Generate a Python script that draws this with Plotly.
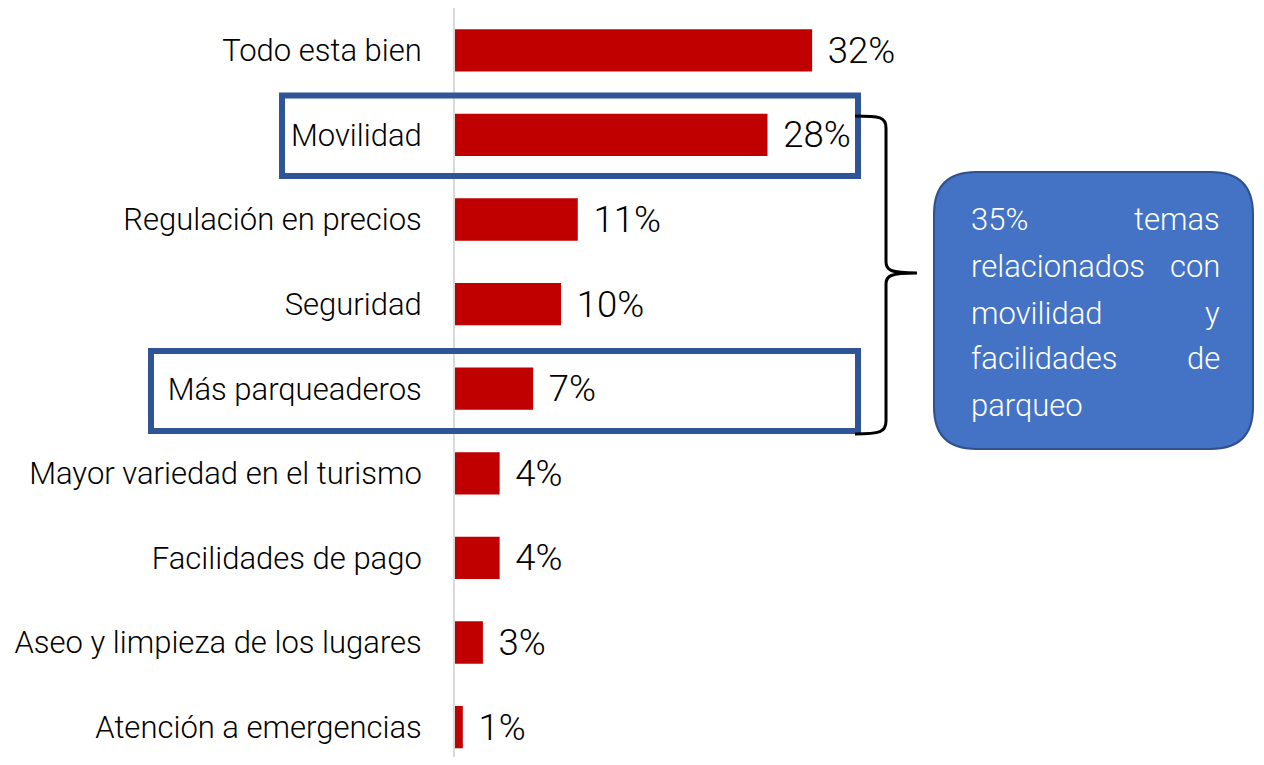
import plotly.graph_objects as go

categories = [
    "Todo esta bien",
    "Movilidad",
    "Regulación en precios",
    "Seguridad",
    "Más parqueaderos",
    "Mayor variedad en el turismo",
    "Facilidades de pago",
    "Aseo y limpieza de los lugares",
    "Atención a emergencias",
]
values = [32, 28, 11, 9.5, 7, 4, 4, 2.5, 0.7]
value_labels = ["32%", "28%", "11%", "10%", "7%", "4%", "4%", "3%", "1%"]

callout_left = ["35%", "relacionados", "movilidad", "facilidades", "parqueo"]
callout_right = ["temas", "con", "y", "de", ""]

OFF = 8  # page body margin
W, H = 1264 - 2 * OFF, 765 - 2 * OFF
ML, MR, MT, MB = 455 - OFF, 0, 0, 0
PW, PH = W - ML - MR, H - MT - MB
UNIT = 84.6  # px per category
XMAX = PW / 11.16  # keep 11.16 px per percentage point
FONT = "Roboto Light, Roboto"


def px(x):
    # x in screen pixels of the reference
    return (x - OFF - ML) / PW


def py(y):
    return (H - MB - (y - OFF)) / PH


def path(points_cmds):
    out = []
    for cmd, *coords in points_cmds:
        parts = [cmd]
        for i in range(0, len(coords), 2):
            parts.append(f"{px(coords[i]):.5f},{py(coords[i+1]):.5f}")
        out.append(" ".join(parts))
    return " ".join(out)


fig = go.Figure()
fig.add_trace(go.Bar(
    y=categories,
    x=values,
    orientation="h",
    width=0.5,
    marker=dict(color="#C00000", line=dict(width=0)),
    text=["\u00a0\u200a" + t for t in value_labels],
    textposition="outside",
    cliponaxis=False,
    textfont=dict(family=FONT, size=38, color="#000000", weight=300),
    hoverinfo="skip",
))

shapes = []
# highlight boxes
for (x0, y0, x1, y1) in [(282, 95.5, 858, 176), (151, 351, 858, 431)]:
    shapes.append(dict(type="rect", xref="paper", yref="paper",
                       x0=px(x0), x1=px(x1), y0=py(y1), y1=py(y0),
                       line=dict(color="#2F5597", width=6), fillcolor="rgba(0,0,0,0)"))
# curly brace
brace = path([
    ("M", 855, 116), ("C", 880, 116, 886, 117, 886, 128), ("L", 886, 262),
    ("C", 886, 270, 890, 273, 917, 273),
    ("M", 917, 273), ("C", 890, 273, 886, 276, 886, 284), ("L", 886, 421),
    ("C", 886, 432, 880, 434, 855, 434),
])
shapes.append(dict(type="path", xref="paper", yref="paper", path=brace,
                   line=dict(color="#000000", width=3)))
# rounded callout box
bx0, by0, bx1, by1, r = 934, 172, 1253, 449, 42
box = path([
    ("M", bx0 + r, by0), ("L", bx1 - r, by0), ("Q", bx1, by0, bx1, by0 + r),
    ("L", bx1, by1 - r), ("Q", bx1, by1, bx1 - r, by1),
    ("L", bx0 + r, by1), ("Q", bx0, by1, bx0, by1 - r),
    ("L", bx0, by0 + r), ("Q", bx0, by0, bx0 + r, by0),
]) + " Z"
shapes.append(dict(type="path", xref="paper", yref="paper", path=box,
                   fillcolor="#4472C4", line=dict(color="#2F528F", width=2)))

annotations = []
line_y = [219, 266, 313, 359, 406]
for i, yy in enumerate(line_y):
    if callout_left[i]:
        annotations.append(dict(xref="paper", yref="paper", x=px(969), y=py(yy),
                                text=callout_left[i], showarrow=False,
                                xanchor="left", yanchor="middle",
                                font=dict(family=FONT, size=31, color="#FFFFFF", weight=300)))
    if callout_right[i]:
        annotations.append(dict(xref="paper", yref="paper", x=px(1222), y=py(yy),
                                text=callout_right[i], showarrow=False,
                                xanchor="right", yanchor="middle",
                                font=dict(family=FONT, size=31, color="#FFFFFF", weight=300)))

fig.update_layout(
    width=W, height=H,
    margin=dict(l=ML, r=MR, t=MT, b=MB, pad=0),
    paper_bgcolor="#FFFFFF", plot_bgcolor="#FFFFFF",
    showlegend=False,
    shapes=shapes,
    annotations=annotations,
    xaxis=dict(visible=False, range=[0, XMAX], showgrid=False, zeroline=False),
    yaxis=dict(
        type="category",
        categoryorder="array", categoryarray=categories,
        range=[-0.5 + PH / UNIT, -0.5],
        showgrid=False, zeroline=False,
        showline=True, linecolor="#D9D9D9", linewidth=2,
        ticks="", ticklabelstandoff=25,
        tickfont=dict(family=FONT, size=31, color="#000000", weight=300),
    ),
)

fig.write_html("out.html")
